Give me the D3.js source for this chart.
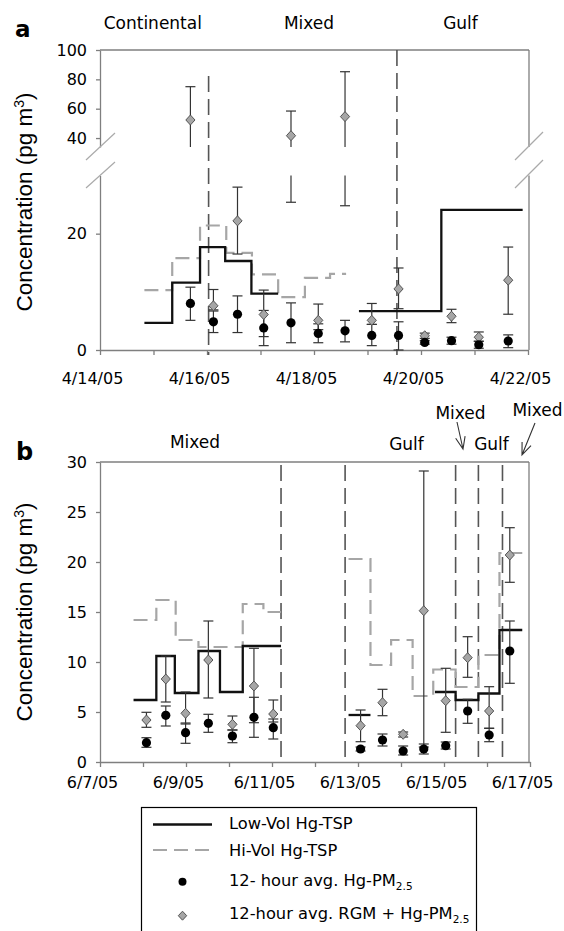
<!DOCTYPE html>
<html><head><meta charset="utf-8">
<script src="https://cdn.jsdelivr.net/npm/d3@7"></script>
<style>body{margin:0;background:#fff} svg{display:block}</style>
</head><body><svg id="c" width="564" height="931"></svg>
<script>
// ---------------- DATA ----------------
// Panel a: days after 4/14/05 00:00
const tickLabelsA = ["4/14/05","4/16/05","4/18/05","4/20/05","4/22/05"];
const yTicksAHigh = [40,60,80,100];
const yTicksALow = [0,20];
const regionsA = ["Continental","Mixed","Gulf"];
const sepA = [2.03, 5.55];

const lowVolA1_t = [0.83,1.35,1.87,2.34,2.83,3.33];
const lowVolA1_v = [4.67,11.6,17.7,15.3,9.7];
const lowVolA2_t = [4.84,6.38,7.9];
const lowVolA2_v = [6.67,24.1];
const hiVolA_t = [0.83,1.35,1.87,2.36,2.84,3.33,3.83,4.3,4.6];
const hiVolA_v = [10.3,15.8,21.4,16.7,13.0,9.1,12.4,13.1];

const pmA_t  = [1.69,2.12,2.57,3.06,3.57,4.08,4.58,5.08,5.58,6.07,6.57,7.08,7.63];
const pmA_v  = [8.0,4.85,6.15,3.8,4.67,2.85,3.3,2.5,2.5,1.3,1.6,0.9,1.55];
const pmA_lo = [5.1,3.0,3.0,0.75,1.25,1.25,1.4,0.75,0.0,1.0,1.0,0.3,0.4];
const pmA_hi = [10.8,6.7,9.3,6.8,8.1,4.5,5.1,4.4,4.85,1.6,2.2,1.5,2.6];

const rgmA_t  = [1.69,2.12,2.57,3.06,3.57,4.08,4.58,5.08,5.58,6.07,6.57,7.08,7.63];
const rgmA_v  = [52.3,7.6,22.2,6.1,41.6,5.1,54.6,5.1,10.5,2.45,5.8,2.2,12.0];
const rgmA_lo = [31,6.9,16.5,2.3,25.4,3.5,24.8,4.4,7.1,2.0,4.7,1.5,6.15];
const rgmA_hi = [75,10.4,28,10.3,58.4,7.9,85.2,8.0,14.1,2.9,7.0,3.1,17.7];

// Panel b: days after 6/7/05 00:00
const tickLabelsB = ["6/7/05","6/9/05","6/11/05","6/13/05","6/15/05","6/17/05"];
const yTicksB = [0,5,10,15,20,25,30];
const sepB = [4.21,5.70,8.27,8.80,9.36];

const lowVolB1_t = [0.78,1.31,1.74,2.29,2.79,3.32,4.21];
const lowVolB1_v = [6.2,10.6,6.9,11.1,7.0,11.6];
const lowVolB2_t = [5.78,6.29];
const lowVolB2_v = [4.7];
const lowVolB3_t = [7.79,8.27,8.80,9.29,9.82];
const lowVolB3_v = [7.0,6.2,6.85,13.2];
const hiVolB1_t = [0.78,1.31,1.76,2.29,3.32,3.8,4.21];
const hiVolB1_v = [14.2,16.2,12.2,11.5,15.8,15.0];
const hiVolB2_t = [5.78,6.29,6.77,7.27,7.75,8.27,8.80,9.29,9.82];
const hiVolB2_v = [20.3,9.7,12.2,6.6,9.25,7.5,10.7,20.9];

const pmB_t  = [1.08,1.53,1.99,2.52,3.08,3.58,4.03,6.06,6.57,7.05,7.53,8.04,8.55,9.05,9.53];
const pmB_v  = [1.93,4.67,2.93,3.87,2.6,4.47,3.43,1.3,2.2,1.1,1.3,1.63,5.1,2.7,11.1];
const pmB_lo = [1.47,3.6,1.87,2.97,1.93,2.47,2.3,1.1,1.6,0.7,0.8,1.3,3.87,2.03,7.87];
const pmB_hi = [2.43,5.6,3.9,4.77,3.2,6.47,4.3,1.5,2.8,1.6,1.8,2.0,6.27,3.37,14.1];

const rgmB_t  = [1.08,1.53,1.99,2.52,3.08,3.58,4.03,6.06,6.57,7.05,7.53,8.04,8.55,9.05,9.53];
const rgmB_v  = [4.2,8.3,4.87,10.2,3.77,7.6,4.8,3.63,5.93,2.77,15.13,6.13,10.43,5.1,20.7];
const rgmB_lo = [3.47,6.0,3.8,6.4,3.2,3.93,4.0,2.03,4.63,2.5,1.5,2.97,8.47,3.37,17.97];
const rgmB_hi = [4.97,10.6,7.0,14.1,4.6,11.37,6.2,5.2,7.27,3.0,29.1,9.37,12.53,7.53,23.43];

const legendLabels = ["Low-Vol Hg-TSP","Hi-Vol Hg-TSP","12- hour avg. Hg-PM","12-hour avg. RGM + Hg-PM"];

// ---------------- DRAW ----------------
const svg = d3.select("#c");
const FONT = "'DejaVu Sans', sans-serif";
const AXIS = "#7f7f7f";
const SEP = "#555";
const GRAY = "#a6a6a6";

function styleAxis(g){
  g.select(".domain").attr("stroke", AXIS).attr("stroke-width",1.3);
  g.selectAll(".tick line").attr("stroke", AXIS).attr("stroke-width",1.3);
  g.selectAll(".tick text").attr("fill","#000").style("font-family",FONT).style("font-size","16px");
}
const diamondPath = "M0,-5L4.6,0L0,5L-4.6,0Z";
function stepPts(t,v){ return t.map((e,i)=>[e, v[Math.min(i, v.length-1)]]); }

// ===== Panel a =====
const xa = d3.scaleLinear().domain([0,8]).range([100,528]);
const yaLo = d3.scaleLinear().domain([0,30]).range([350,175.5]);
const yaHi = d3.scaleLinear().domain([33.9,100]).range([147,50]);
const ya = v => v <= 30 ? yaLo(v) : yaHi(v);

const ga = svg.append("g");
// axes
ga.append("g").attr("transform","translate(100,0)")
  .call(d3.axisLeft(yaHi).tickValues(yTicksAHigh).tickSize(4).tickSizeOuter(0).tickPadding(9))
  .call(styleAxis);
ga.append("g").attr("transform","translate(100,0)")
  .call(d3.axisLeft(yaLo).tickValues(yTicksALow).tickSize(4).tickSizeOuter(0).tickPadding(9))
  .call(styleAxis);
const xaxA = ga.append("g").attr("transform","translate(0,350)")
  .call(d3.axisBottom(xa).tickValues(d3.range(9)).tickSize(5).tickSizeOuter(0)
     .tickFormat(d => d%2===0 ? tickLabelsA[d/2] : ""))
  .call(styleAxis);
xaxA.selectAll(".tick text").attr("dy",null).attr("y",33.5).attr("dx",-8);
// top and right border
ga.append("line").attr("x1",100).attr("x2",529).attr("y1",yaHi(100)).attr("y2",yaHi(100)).attr("stroke",AXIS).attr("stroke-width",1.3);
ga.append("line").attr("x1",529).attr("x2",529).attr("y1",yaHi(100)).attr("y2",yaHi(33.9)).attr("stroke",AXIS).attr("stroke-width",1.3);
ga.append("line").attr("x1",529).attr("x2",529).attr("y1",yaLo(30)).attr("y2",yaLo(0)).attr("stroke",AXIS).attr("stroke-width",1.3);
// break marks
[[86,160,115,133],[86,188,115,162],[515,160,543,132],[515,188,543,160]].forEach(s=>{
  ga.append("line").attr("x1",s[0]).attr("y1",s[1]).attr("x2",s[2]).attr("y2",s[3]).attr("stroke","#aaa").attr("stroke-width",1.2);
});
// separators
ga.selectAll(".sepA").data(sepA).join("line")
  .attr("x1",d=>xa(d)).attr("x2",d=>xa(d))
  .attr("y1",(d,i)=> i===0 ? 76 : 50).attr("y2",355)
  .attr("stroke",SEP).attr("stroke-width",1.6).attr("stroke-dasharray","16,7");
// step lines
const lineA = d3.line().x(d=>xa(d[0])).y(d=>yaLo(d[1])).curve(d3.curveStepAfter);
ga.append("path").attr("d",lineA(stepPts(hiVolA_t,hiVolA_v))).attr("fill","none")
  .attr("stroke",GRAY).attr("stroke-width",2.2).attr("stroke-dasharray","14,7");
[[lowVolA1_t,lowVolA1_v],[lowVolA2_t,lowVolA2_v]].forEach(([t,v])=>{
  ga.append("path").attr("d",lineA(stepPts(t,v))).attr("fill","none")
    .attr("stroke","#111").attr("stroke-width",2.3);
});
// error bars with break
function errA(g,x,lo,hi){
  const st = s=>s.attr("stroke","#333").attr("stroke-width",1.2);
  if (lo < 30){
    const b = Math.min(hi,30);
    st(g.append("line").attr("x1",x).attr("x2",x).attr("y1",yaLo(lo)).attr("y2",yaLo(b)));
    st(g.append("line").attr("x1",x-5).attr("x2",x+5).attr("y1",yaLo(lo)).attr("y2",yaLo(lo)));
    if (hi <= 30) st(g.append("line").attr("x1",x-5).attr("x2",x+5).attr("y1",yaLo(hi)).attr("y2",yaLo(hi)));
  }
  if (hi > 33.9){
    const a = Math.max(lo,33.9);
    st(g.append("line").attr("x1",x).attr("x2",x).attr("y1",yaHi(a)).attr("y2",yaHi(hi)));
    st(g.append("line").attr("x1",x-5).attr("x2",x+5).attr("y1",yaHi(hi)).attr("y2",yaHi(hi)));
    if (lo >= 33.9) st(g.append("line").attr("x1",x-5).attr("x2",x+5).attr("y1",yaHi(lo)).attr("y2",yaHi(lo)));
  }
}
rgmA_t.forEach((t,i)=>errA(ga, xa(t), rgmA_lo[i], rgmA_hi[i]));
pmA_t.forEach((t,i)=>errA(ga, xa(t), pmA_lo[i], pmA_hi[i]));
ga.selectAll(".dA").data(rgmA_t).join("path")
  .attr("d",diamondPath).attr("transform",(d,i)=>`translate(${xa(d)},${ya(rgmA_v[i])})`)
  .attr("fill",GRAY).attr("stroke","#555").attr("stroke-width",1);
ga.selectAll(".cA").data(pmA_t).join("circle")
  .attr("cx",d=>xa(d)).attr("cy",(d,i)=>yaLo(pmA_v[i])).attr("r",4.6).attr("fill","#000");
// labels
ga.append("text").attr("x",15).attr("y",37).text("a")
  .style("font-family",FONT).style("font-weight","bold").style("font-size","23px");
[[152.8,regionsA[0]],[309,regionsA[1]],[460.5,regionsA[2]]].forEach(([x,s])=>{
  ga.append("text").attr("x",x).attr("y",29).attr("text-anchor","middle").text(s)
    .style("font-family",FONT).style("font-size","17px");
});
function yLabel(g, cy){
  const t = g.append("text").attr("transform",`translate(32,${cy}) rotate(-90)`).attr("text-anchor","middle")
    .style("font-family","'Liberation Sans', Arial, sans-serif").style("font-size","22.5px");
  t.append("tspan").text("Concentration (pg m");
  t.append("tspan").attr("dy",-8).style("font-size","14px").text("3");
  t.append("tspan").attr("dy",8).text(")");
}
yLabel(ga, 202);

// ===== Panel b =====
const xb = d3.scaleLinear().domain([0,10]).range([100,530]);
const yb = d3.scaleLinear().domain([0,30]).range([762,462]);
const gb = svg.append("g");
gb.append("g").attr("transform","translate(100,0)")
  .call(d3.axisLeft(yb).tickValues(yTicksB).tickSize(4).tickSizeOuter(0).tickPadding(9))
  .call(styleAxis);
const xaxB = gb.append("g").attr("transform","translate(0,762)")
  .call(d3.axisBottom(xb).tickValues(d3.range(11)).tickSize(5).tickSizeOuter(0)
     .tickFormat(d => d%2===0 ? tickLabelsB[d/2] : ""))
  .call(styleAxis);
xaxB.selectAll(".tick text").attr("dy",null).attr("y",26).attr("dx",-8);
gb.append("line").attr("x1",100).attr("x2",529).attr("y1",yb(30)).attr("y2",yb(30)).attr("stroke",AXIS).attr("stroke-width",1.3);
gb.append("line").attr("x1",529).attr("x2",529).attr("y1",yb(30)).attr("y2",yb(0)).attr("stroke",AXIS).attr("stroke-width",1.3);
gb.selectAll(".sepB").data(sepB).join("line")
  .attr("x1",d=>xb(d)).attr("x2",d=>xb(d)).attr("y1",465).attr("y2",762)
  .attr("stroke",SEP).attr("stroke-width",1.6).attr("stroke-dasharray","16,7");
const lineB = d3.line().x(d=>xb(d[0])).y(d=>yb(d[1])).curve(d3.curveStepAfter);
[[hiVolB1_t,hiVolB1_v],[hiVolB2_t,hiVolB2_v]].forEach(([t,v])=>{
  gb.append("path").attr("d",lineB(stepPts(t,v))).attr("fill","none")
    .attr("stroke",GRAY).attr("stroke-width",2.2).attr("stroke-dasharray","14,7");
});
[[lowVolB1_t,lowVolB1_v],[lowVolB2_t,lowVolB2_v],[lowVolB3_t,lowVolB3_v]].forEach(([t,v])=>{
  gb.append("path").attr("d",lineB(stepPts(t,v))).attr("fill","none")
    .attr("stroke","#111").attr("stroke-width",2.3);
});
function errB(g,x,lo,hi){
  const st = s=>s.attr("stroke","#333").attr("stroke-width",1.2);
  st(g.append("line").attr("x1",x).attr("x2",x).attr("y1",yb(lo)).attr("y2",yb(hi)));
  st(g.append("line").attr("x1",x-5).attr("x2",x+5).attr("y1",yb(lo)).attr("y2",yb(lo)));
  st(g.append("line").attr("x1",x-5).attr("x2",x+5).attr("y1",yb(hi)).attr("y2",yb(hi)));
}
rgmB_t.forEach((t,i)=>errB(gb, xb(t), rgmB_lo[i], rgmB_hi[i]));
pmB_t.forEach((t,i)=>errB(gb, xb(t), pmB_lo[i], pmB_hi[i]));
gb.selectAll(".dB").data(rgmB_t).join("path")
  .attr("d",diamondPath).attr("transform",(d,i)=>`translate(${xb(d)},${yb(rgmB_v[i])})`)
  .attr("fill",GRAY).attr("stroke","#555").attr("stroke-width",1);
gb.selectAll(".cB").data(pmB_t).join("circle")
  .attr("cx",d=>xb(d)).attr("cy",(d,i)=>yb(pmB_v[i])).attr("r",4.6).attr("fill","#000");
gb.append("text").attr("x",16).attr("y",460).text("b")
  .style("font-family",FONT).style("font-weight","bold").style("font-size","24px");
[[195,448,"Mixed"],[406.5,450,"Gulf"],[460.5,419,"Mixed"],[491.5,450,"Gulf"],[537.5,416,"Mixed"]].forEach(([x,y,s])=>{
  gb.append("text").attr("x",x).attr("y",y).attr("text-anchor","middle").text(s)
    .style("font-family",FONT).style("font-size","17px");
});
function arrow(g,x1,y1,x2,y2){
  const a = Math.atan2(y2-y1,x2-x1), L=13, s=0.38;
  const p = d3.path();
  p.moveTo(x1,y1); p.lineTo(x2,y2);
  p.moveTo(x2-L*Math.cos(a-s), y2-L*Math.sin(a-s)); p.lineTo(x2,y2);
  p.lineTo(x2-L*Math.cos(a+s), y2-L*Math.sin(a+s));
  g.append("path").attr("d",p.toString()).attr("fill","none").attr("stroke","#333").attr("stroke-width",1.1);
}
arrow(gb,457,422,463,449);
arrow(gb,535,423,522,455);
yLabel(gb, 612);

// ===== Legend =====
const gl = svg.append("g");
gl.append("rect").attr("x",141.5).attr("y",807.5).attr("width",335).attr("height",140)
  .attr("fill","none").attr("stroke","#000").attr("stroke-width",1.2);
gl.append("line").attr("x1",153).attr("x2",212).attr("y1",824.5).attr("y2",824.5).attr("stroke","#111").attr("stroke-width",2.3);
gl.append("line").attr("x1",153).attr("x2",212).attr("y1",850).attr("y2",850).attr("stroke",GRAY).attr("stroke-width",2.2).attr("stroke-dasharray","14,7");
gl.append("circle").attr("cx",182.5).attr("cy",881.7).attr("r",4).attr("fill","#000");
gl.append("path").attr("d","M0,-4.5L4.2,0L0,4.5L-4.2,0Z").attr("transform","translate(182.5,915.7)")
  .attr("fill",GRAY).attr("stroke","#555").attr("stroke-width",1);
const legY = [829,856,885.5,919];
legendLabels.forEach((s,i)=>{
  const t = gl.append("text").attr("x",229).attr("y",legY[i]).style("font-family",FONT).style("font-size","16.3px");
  t.append("tspan").text(s);
  if (i>=2) t.append("tspan").attr("dy",4).style("font-size","10.5px").text("2.5");
});
</script></body></html>
